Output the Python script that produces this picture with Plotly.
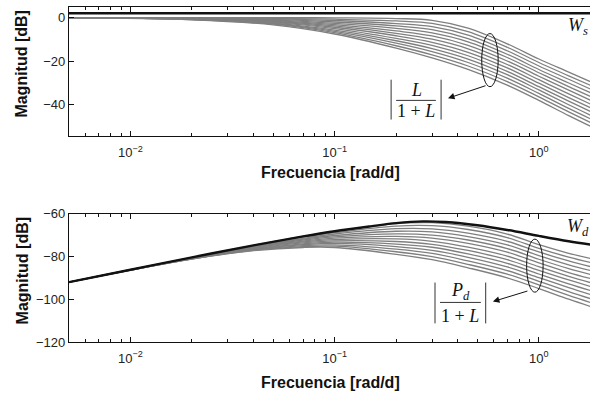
import math
import plotly.graph_objects as go

# Frequency grid (rad/d) for the complementary-sensitivity family
w_t = [0.005, 0.02, 0.05, 0.1, 0.2, 0.3, 0.45, 0.7, 1.0, 1.4, 1.8]
# |L/(1+L)| in dB, one row per plant case
t_db = [
    [0, 0.0, 0.0, -0.1, -0.4, -1.2, -4.8, -12.0, -19.0, -25.0, -29.5],
    [0, -0.1, -0.3, -0.7, -1.5, -2.6, -6.4, -13.6, -20.6, -26.7, -31.2],
    [0, -0.2, -0.55, -1.3, -2.7, -4.1, -8.0, -15.2, -22.2, -28.3, -32.9],
    [0, -0.25, -0.8, -2.0, -3.8, -5.5, -9.6, -16.8, -23.8, -30.0, -34.6],
    [0, -0.3, -1.1, -2.6, -4.9, -7.0, -11.1, -18.3, -25.3, -31.7, -36.3],
    [0, -0.4, -1.4, -3.2, -6.1, -8.4, -12.7, -19.9, -26.9, -33.3, -38.0],
    [0, -0.5, -1.65, -3.8, -7.2, -9.9, -14.3, -21.5, -28.5, -35.0, -39.8],
    [0, -0.6, -1.9, -4.4, -8.3, -11.3, -15.9, -23.1, -30.1, -36.7, -41.5],
    [0, -0.7, -2.2, -5.0, -9.5, -12.7, -17.5, -24.7, -31.7, -38.3, -43.2],
    [0, -0.75, -2.5, -5.7, -10.6, -14.2, -19.0, -26.2, -33.2, -40.0, -44.9],
    [0, -0.8, -2.75, -6.3, -11.7, -15.6, -20.6, -27.8, -34.8, -41.7, -46.6],
    [0, -0.9, -3.0, -6.9, -12.9, -17.1, -22.2, -29.4, -36.4, -43.3, -48.3],
    [0, -1.0, -3.3, -7.5, -14.0, -18.5, -23.8, -31.0, -38.0, -45.0, -50.0],
]
# Sensitivity weight Ws (dB)
w_ws = [0.004, 2.0]
ws_db = [2.0, 2.0]

# Frequency grid for the disturbance family
w_pd = [0.005, 0.01, 0.02, 0.04, 0.07, 0.1, 0.2, 0.3, 0.45, 0.7, 1.0, 1.4, 1.8]
# |Pd/(1+L)| in dB, one row per plant case
pd_db = [
    [-92, -86.2, -80.4, -74.8, -70.6, -68.3, -64.6, -64.2, -65.8, -69.5, -74.5, -78.5, -81.0],
    [-92, -86.2, -80.5, -75.0, -71.0, -68.9, -65.8, -65.6, -67.4, -71.2, -76.2, -80.3, -82.9],
    [-92, -86.2, -80.5, -75.2, -71.5, -69.5, -67.0, -67.1, -69.1, -72.9, -77.9, -82.1, -84.8],
    [-92, -86.2, -80.6, -75.4, -71.9, -70.2, -68.2, -68.5, -70.7, -74.6, -79.6, -83.9, -86.6],
    [-92, -86.3, -80.7, -75.6, -72.3, -70.8, -69.4, -70.0, -72.3, -76.3, -81.3, -85.7, -88.5],
    [-92, -86.3, -80.7, -75.8, -72.8, -71.4, -70.6, -71.4, -73.9, -78.0, -83.0, -87.5, -90.4],
    [-92, -86.3, -80.8, -76.0, -73.2, -72.1, -71.8, -72.9, -75.6, -79.8, -84.8, -89.3, -92.3],
    [-92, -86.3, -80.9, -76.3, -73.6, -72.7, -73.0, -74.3, -77.2, -81.5, -86.5, -91.0, -94.1],
    [-92, -86.3, -80.9, -76.5, -74.1, -73.3, -74.2, -75.7, -78.8, -83.2, -88.2, -92.8, -96.0],
    [-92, -86.4, -81.0, -76.7, -74.5, -73.9, -75.4, -77.2, -80.4, -84.9, -89.9, -94.6, -97.9],
    [-92, -86.4, -81.1, -76.9, -74.9, -74.6, -76.6, -78.6, -82.1, -86.6, -91.6, -96.4, -99.8],
    [-92, -86.4, -81.1, -77.1, -75.4, -75.2, -77.8, -80.1, -83.7, -88.3, -93.3, -98.2, -101.6],
    [-92, -86.4, -81.2, -77.3, -75.8, -75.8, -79.0, -81.5, -85.3, -90.0, -95.0, -100.0, -103.5],
]
# Disturbance weight Wd (dB)
w_wd = [0.005, 0.01, 0.02, 0.04, 0.07, 0.1, 0.15, 0.2, 0.27, 0.35, 0.5, 0.7, 1.0, 1.4, 1.8]
wd_db = [-92, -86.2, -80.4, -74.8, -70.6, -68.2, -65.9, -64.4, -63.6, -63.9, -65.4, -67.6, -70.4, -72.9, -74.5]

# Axis tick labels
x_tickvals = [0.01, 0.1, 1]
x_ticktext = ["10<sup>\u22122</sup>", "10<sup>\u22121</sup>", "10<sup>0</sup>"]
x_minor = [m * 10 ** e for e in (-3, -2, -1, 0) for m in range(2, 10)]
top_yticks = [0, -20, -40]
bot_yticks = [-60, -80, -100, -120]

GREY = "#7f7f7f"
BLACK = "#111111"
SANS = "Liberation Sans, Arial, sans-serif"
SERIF = "Liberation Serif, Times New Roman, serif"

fig = go.Figure()

for row in t_db:
    fig.add_trace(go.Scatter(x=w_t, y=row, mode="lines", line=dict(color=GREY, width=1.3, shape="spline"),
                             xaxis="x", yaxis="y", showlegend=False, hoverinfo="skip"))
fig.add_trace(go.Scatter(x=w_ws, y=ws_db, mode="lines", line=dict(color=BLACK, width=2.4),
                         xaxis="x", yaxis="y", showlegend=False))

for row in pd_db:
    fig.add_trace(go.Scatter(x=w_pd, y=row, mode="lines", line=dict(color=GREY, width=1.3, shape="spline"),
                             xaxis="x2", yaxis="y2", showlegend=False, hoverinfo="skip"))
fig.add_trace(go.Scatter(x=w_wd, y=wd_db, mode="lines", line=dict(color=BLACK, width=2.4, shape="spline"),
                         xaxis="x2", yaxis="y2", showlegend=False))

xr = [math.log10(0.005), math.log10(1.78)]
xcommon = dict(type="log", range=xr, showgrid=False, zeroline=False, showline=True, linecolor=BLACK,
               linewidth=1.3, mirror="ticks", ticks="inside", ticklen=5, tickwidth=1, tickcolor=BLACK,
               tickmode="array", tickvals=x_tickvals, ticktext=x_ticktext, ticklabelstandoff=4,
               tickfont=dict(family=SANS, size=13, color="#222"),
               minor=dict(ticks="inside", ticklen=3, tickwidth=1, tickcolor=BLACK, tickmode="array",
                          tickvals=x_minor, showgrid=False))
ycommon = dict(showgrid=False, zeroline=False, showline=True, linecolor=BLACK, linewidth=1.3, mirror=False,
               ticks="inside", ticklen=5, tickwidth=1, tickcolor=BLACK, tickmode="array",
               tickfont=dict(family=SANS, size=13, color="#222"))

fig.update_layout(
    width=590, height=396, paper_bgcolor="white", plot_bgcolor="white",
    margin=dict(l=69, r=0, t=5, b=54),
    xaxis=dict(xcommon, domain=[0, 1], anchor="y"),
    yaxis=dict(ycommon, domain=[0.614, 1], anchor="x", range=[-54.5, 4.9], tickvals=top_yticks),
    xaxis2=dict(xcommon, domain=[0, 1], anchor="y2"),
    yaxis2=dict(ycommon, domain=[0, 0.383], anchor="x2", range=[-120, -60], tickvals=bot_yticks),
)

ann = []
title_font = dict(family=SANS, size=16, color="#111")
for yp in (0.5045, -0.1217):
    ann.append(dict(text="<b>Frecuencia [rad/d]</b>", xref="paper", yref="paper", x=0.501, y=yp,
                    showarrow=False, font=title_font, xanchor="center", yanchor="middle"))
for yp in (0.831, 0.2136):
    ann.append(dict(text="<b>Magnitud [dB]</b>", xref="paper", yref="paper", x=-0.0902, y=yp,
                    showarrow=False, font=title_font, textangle=-90, xanchor="center", yanchor="middle"))

math_font = dict(family=SERIF, size=18, color="#111")
# Weight labels
ann.append(dict(text="<i>W</i><sub><i>s</i></sub>", xref="x", yref="y", x=0.19, y=-4.2,
                showarrow=False, font=math_font))
ann.append(dict(text="<i>W</i><sub><i>d</i></sub>", xref="x2", yref="y2", x=0.19, y=-66.5,
                showarrow=False, font=math_font))
# |L/(1+L)|
ann.append(dict(text="<i>L</i>", xref="x", yref="y", x=-0.601, y=-33.0, showarrow=False, font=math_font))
ann.append(dict(text="1 + <i>L</i>", xref="x", yref="y", x=-0.601, y=-42.8, showarrow=False, font=math_font))
# |Pd/(1+L)|
ann.append(dict(text="<i>P</i><sub><i>d</i></sub>", xref="x2", yref="y2", x=-0.386, y=-96.2,
                showarrow=False, font=math_font))
ann.append(dict(text="1 + <i>L</i>", xref="x2", yref="y2", x=-0.386, y=-107.8, showarrow=False, font=math_font))
# Arrows from the ellipses to the labels
ann.append(dict(text="", xref="x", yref="y", x=-0.445, y=-37.0, ax=39, ay=-13, showarrow=True,
                arrowhead=2, arrowsize=1.3, arrowwidth=1, arrowcolor=BLACK, standoff=0))
ann.append(dict(text="", xref="x2", yref="y2", x=-0.225, y=-101.1, ax=36, ay=-11, showarrow=True,
                arrowhead=2, arrowsize=1.3, arrowwidth=1, arrowcolor=BLACK, standoff=0))
fig.update_layout(annotations=ann)

line = dict(color=BLACK, width=1)
shapes = [
    # ellipses grouping the curve families
    dict(type="circle", xref="x", yref="y", x0=0.525, x1=0.632, y0=-31.7, y1=-7.3, line=line),
    dict(type="circle", xref="x2", yref="y2", x0=0.871, x1=1.049, y0=-96.7, y1=-71.9, line=line),
    # |L/(1+L)| bars and fraction rule
    dict(type="line", xref="x", yref="y", x0=0.189, x1=0.189, y0=-28.5, y1=-46.8, line=dict(color="#333", width=1)),
    dict(type="line", xref="x", yref="y", x0=0.332, x1=0.332, y0=-28.5, y1=-46.8, line=dict(color="#333", width=1)),
    dict(type="line", xref="x", yref="y", x0=0.2, x1=0.313, y0=-38.0, y1=-38.0, line=dict(color="#333", width=1)),
    # |Pd/(1+L)| bars and fraction rule
    dict(type="line", xref="x2", yref="y2", x0=0.310, x1=0.310, y0=-92.2, y1=-111.3, line=dict(color="#333", width=1)),
    dict(type="line", xref="x2", yref="y2", x0=0.549, x1=0.549, y0=-92.2, y1=-111.3, line=dict(color="#333", width=1)),
    dict(type="line", xref="x2", yref="y2", x0=0.328, x1=0.520, y0=-101.5, y1=-101.5, line=dict(color="#333", width=1)),
]
fig.update_layout(shapes=shapes)

fig.write_html("out.html")
